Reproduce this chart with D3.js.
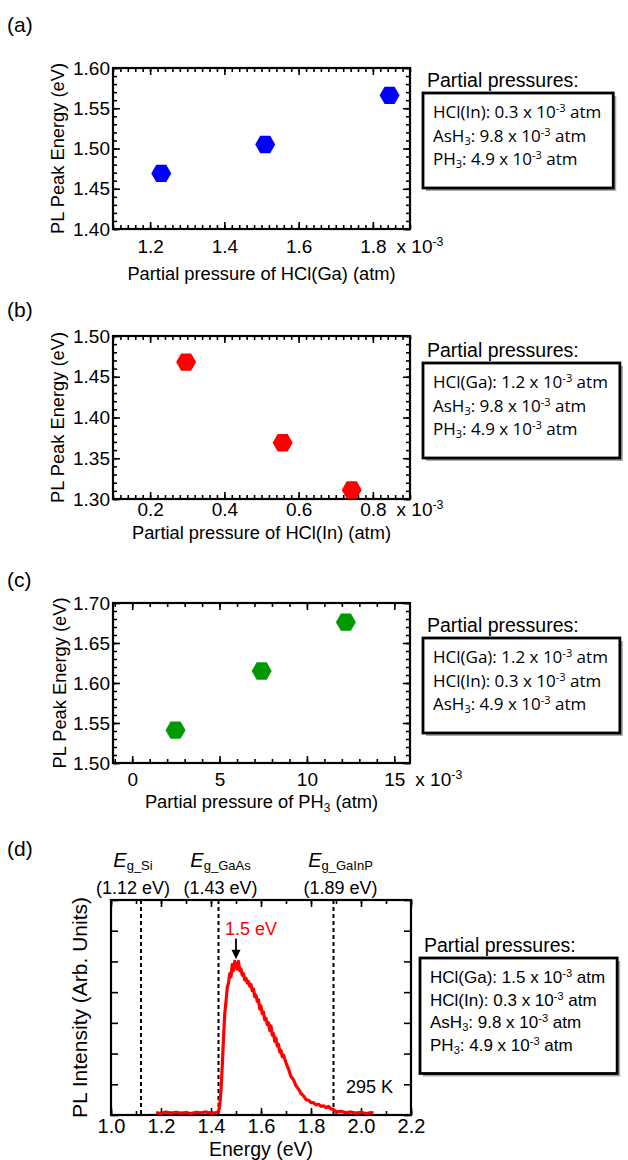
<!DOCTYPE html>
<html>
<head>
<meta charset="utf-8">
<script src="https://cdn.jsdelivr.net/npm/d3@7"></script>
<style>
body { margin: 0; background: #fff; }
svg { display: block; }
text { font-family: "Liberation Sans", Arial, sans-serif; fill: #000; }
.calib { font-family: "Open Sans", sans-serif; }
</style>
</head>
<body>
<script>
// (a) PL peak vs HCl(Ga)
var hclGa = [1.23, 1.51, 1.845];
var peakA = [1.469, 1.505, 1.566];
var xTicksA = [1.2, 1.4, 1.6, 1.8];
var yTicksA = [1.40, 1.45, 1.50, 1.55, 1.60];
var boxA = ["HCl(In): 0.3 x 10^-3 atm", "AsH_3: 9.8 x 10^-3 atm", "PH_3: 4.9 x 10^-3 atm"];

// (b) PL peak vs HCl(In)
var hclIn = [0.297, 0.557, 0.743];
var peakB = [1.468, 1.369, 1.311];
var xTicksB = [0.2, 0.4, 0.6, 0.8];
var yTicksB = [1.30, 1.35, 1.40, 1.45, 1.50];
var boxB = ["HCl(Ga): 1.2 x 10^-3 atm", "AsH_3: 9.8 x 10^-3 atm", "PH_3: 4.9 x 10^-3 atm"];

// (c) PL peak vs PH3
var ph3 = [2.48, 7.41, 12.23];
var peakC = [1.541, 1.615, 1.676];
var xTicksC = [0, 5, 10, 15];
var yTicksC = [1.50, 1.55, 1.60, 1.65, 1.70];
var boxC = ["HCl(Ga): 1.2 x 10^-3 atm", "HCl(In): 0.3 x 10^-3 atm", "AsH_3: 4.9 x 10^-3 atm"];

// (d) PL spectrum
var energy = [1.18, 1.20, 1.22, 1.24, 1.26, 1.28, 1.30, 1.32, 1.34, 1.36, 1.38, 1.40, 1.42, 1.43,
    1.435, 1.44, 1.445, 1.45, 1.455, 1.46, 1.465, 1.47, 1.475, 1.48, 1.485, 1.49, 1.495, 1.50,
    1.505, 1.51, 1.515, 1.52, 1.525, 1.53, 1.535, 1.54, 1.545, 1.55, 1.555, 1.56, 1.565, 1.57,
    1.575, 1.58, 1.585, 1.59, 1.595, 1.60, 1.605, 1.61, 1.615, 1.62, 1.625, 1.63, 1.635, 1.64,
    1.645, 1.65, 1.655, 1.66, 1.665, 1.67, 1.675, 1.68, 1.685, 1.69, 1.70, 1.71, 1.72, 1.73,
    1.74, 1.75, 1.76, 1.77, 1.78, 1.79, 1.80, 1.81, 1.82, 1.83, 1.84, 1.85, 1.86, 1.87, 1.88,
    1.89, 1.90, 1.92, 1.94, 1.96, 1.98, 2.00, 2.02, 2.04, 2.05];
var intensity = [0.08, 0.05, 0.1, 0.06, 0.09, 0.06, 0.08, 0.05, 0.09, 0.07, 0.1, 0.06, 0.08, 0.10,
    0.3, 0.8, 1.6, 2.5, 3.3, 3.7, 4.15, 4.3, 4.6, 4.5, 4.9, 4.7, 5.0,
    4.9, 4.75, 5.0, 4.7, 4.75, 4.55, 4.6, 4.4, 4.45, 4.3, 4.35, 4.2, 4.25, 4.05, 4.1,
    3.85, 3.9, 3.7, 3.75, 3.45, 3.55, 3.3, 3.35, 3.1, 3.15, 2.95, 3.0, 2.75, 2.9,
    2.6, 2.65, 2.4, 2.5, 2.25, 2.3, 2.05, 2.1, 1.9, 1.95, 1.7, 1.5, 1.25, 1.15,
    0.95, 0.85, 0.7, 0.62, 0.5, 0.48, 0.4, 0.4, 0.33, 0.35, 0.28, 0.3, 0.24, 0.28, 0.2,
    0.18, 0.1, 0.12, 0.07, 0.1, 0.06, 0.09, 0.05, 0.08, 0.06];
var gapValues = [1.12, 1.43, 1.89];
var gapNames = ["g_Si", "g_GaAs", "g_GaInP"];
var peakEnergy = 1.5;
var xTicksD = [1.0, 1.2, 1.4, 1.6, 1.8, 2.0, 2.2];
var yTicksD = [0, 1, 2, 3, 4, 5, 6, 7];
var boxD = ["HCl(Ga): 1.5 x 10^-3 atm", "HCl(In): 0.3 x 10^-3 atm", "AsH_3: 9.8 x 10^-3 atm", "PH_3: 4.9 x 10^-3 atm"];

var svg = d3.select("body").append("svg")
    .attr("width", 628)
    .attr("height", 1160);

// text with ^sup and _sub pieces, fs = base font size
function rich(sel, str, fs) {
    str.split(/(\^-?\d+|_\d)/).forEach(function(p) {
        if (!p) return;
        if (p[0] === "^") {
            sel.append("tspan").attr("baseline-shift", fs * 0.38).attr("font-size", fs * 0.65).text(p.slice(1));
        } else if (p[0] === "_") {
            sel.append("tspan").attr("baseline-shift", -fs * 0.2).attr("font-size", fs * 0.65).text(p.slice(1));
        } else {
            sel.append("tspan").text(p);
        }
    });
}

function hexagon(cx, cy, r) {
    var pts = d3.range(6).map(function(i) {
        var a = Math.PI / 3 * i;
        return [cx + r * Math.cos(a), cy + r * Math.sin(a)];
    });
    return "M" + pts.join("L") + "Z";
}

function frameAxes(g, x, y, c) {
    var ax = [
        [d3.axisBottom(x), c.bottom, true],
        [d3.axisTop(x), c.top, false]
    ];
    ax.forEach(function(a) {
        g.append("g").attr("transform", "translate(0," + a[1] + ")")
            .call(a[0].tickValues(c.xMinor).tickSize(-4).tickFormat(""));
        var t = g.append("g").attr("class", a[2] ? "xaxis" : "").attr("transform", "translate(0," + a[1] + ")")
            .call(a[0].tickValues(c.xTicks).tickSize(-7).tickPadding(c.xPad).tickFormat(a[2] ? c.xFmt : ""));
        t.attr("font-size", c.tickFont);
    });
    var ay = [
        [d3.axisLeft(y), c.left, true],
        [d3.axisRight(y), c.right, false]
    ];
    ay.forEach(function(a) {
        if (c.yMinor) {
            g.append("g").attr("transform", "translate(" + a[1] + ",0)")
                .call(a[0].tickValues(c.yMinor).tickSize(-4).tickFormat(""));
        }
        var t = g.append("g").attr("transform", "translate(" + a[1] + ",0)")
            .call(a[0].tickValues(c.yTicks).tickSize(-7).tickPadding(3)
                .tickFormat(a[2] && c.yFmt ? c.yFmt : ""));
        t.attr("font-size", c.tickFont);
    });
    g.selectAll(".domain").remove();
    g.selectAll(".tick line").attr("stroke", "#000").attr("stroke-width", 1.6);
    g.append("rect")
        .attr("x", c.left).attr("y", c.top)
        .attr("width", c.right - c.left).attr("height", c.bottom - c.top)
        .attr("fill", "none").attr("stroke", "#000").attr("stroke-width", 2.2);
}

function legendBox(c) {
    svg.append("text").attr("x", c.lx + 4).attr("y", c.top - 6)
        .attr("font-size", 19.5).text("Partial pressures:");
    var g = svg.append("g");
    var shadow = g.append("rect");
    var box = g.append("rect");
    var lines = c.lines.map(function(s, i) {
        var t = g.append("text").attr("class", c.cls)
            .attr("x", c.lx + 10).attr("y", c.top + 25 + i * c.gap)
            .attr("font-size", c.font);
        rich(t, s, c.font);
        return t;
    });
    var wMax = d3.max(lines, function(t) { return t.node().getComputedTextLength(); });
    var w = wMax + 22, h = 25 + (c.lines.length - 1) * c.gap + 23;
    shadow.attr("x", c.lx + 3).attr("y", c.top + 3).attr("width", w).attr("height", h)
        .attr("fill", "#aaa");
    box.attr("x", c.lx).attr("y", c.top).attr("width", w).attr("height", h)
        .attr("fill", "#fff").attr("stroke", "#000").attr("stroke-width", 2.8);
}

function scatterPanel(c) {
    var g = svg.append("g");
    var x = d3.scaleLinear().domain(c.xDomain).range([c.left, c.right]);
    var y = d3.scaleLinear().domain(c.yDomain).range([c.bottom, c.top]);
    frameAxes(g, x, y, c);

    g.selectAll("path.pt")
        .data(c.xs)
        .enter().append("path")
        .attr("class", "pt")
        .attr("d", function(d, i) { return hexagon(x(d), y(c.ys[i]), 10); })
        .attr("fill", c.color);

    // x 10^-3 right after the last tick label
    var last = g.selectAll(".xaxis .tick text").nodes().pop();
    var right = last.getBoundingClientRect().right - svg.node().getBoundingClientRect().left;
    var ex = g.append("text")
        .attr("x", right + 10)
        .attr("y", c.bottom + c.xPad)
        .attr("dy", "0.71em")
        .attr("font-size", c.tickFont);
    rich(ex, "x 10^-3", c.tickFont);

    var xl = g.append("text")
        .attr("x", (c.left + c.right) / 2)
        .attr("y", c.xLabelY)
        .attr("text-anchor", "middle")
        .attr("font-size", 18.3);
    rich(xl, c.xLabel, 18.3);

    g.append("text")
        .attr("transform", "translate(" + c.yLabelX + "," + (c.top + c.bottom) / 2 + ") rotate(-90)")
        .attr("text-anchor", "middle")
        .attr("dy", "0.35em")
        .attr("font-size", 18.3)
        .text("PL Peak Energy (eV)");

    svg.append("text").attr("x", 7).attr("y", c.tagY).attr("font-size", 21).text(c.tag);

    legendBox({ lx: 423, top: c.boxTop, lines: c.box, gap: 23.5, font: 17, cls: "calib" });
}

scatterPanel({
    tag: "(a)", tagY: 32,
    left: 113, right: 410, top: 68, bottom: 229,
    xDomain: [1.1, 1.9], yDomain: [1.40, 1.60],
    xTicks: xTicksA, yTicks: yTicksA,
    xMinor: d3.range(1.1, 1.9001, 0.02), yMinor: d3.range(1.40, 1.6001, 0.01),
    xFmt: d3.format(".1f"), yFmt: d3.format(".2f"),
    xPad: 11, tickFont: 19,
    xs: hclGa, ys: peakA, color: "#0000ff",
    xLabel: "Partial pressure of HCl(Ga) (atm)", xLabelY: 280, yLabelX: 58,
    box: boxA, boxTop: 93
});

scatterPanel({
    tag: "(b)", tagY: 317,
    left: 113, right: 410, top: 336, bottom: 499,
    xDomain: [0.1, 0.9], yDomain: [1.30, 1.50],
    xTicks: xTicksB, yTicks: yTicksB,
    xMinor: d3.range(0.1, 0.9001, 0.02), yMinor: d3.range(1.30, 1.5001, 0.01),
    xFmt: d3.format(".1f"), yFmt: d3.format(".2f"),
    xPad: 4, tickFont: 19,
    xs: hclIn, ys: peakB, color: "#ff0000",
    xLabel: "Partial pressure of HCl(In) (atm)", xLabelY: 539, yLabelX: 58,
    box: boxB, boxTop: 363
});

scatterPanel({
    tag: "(c)", tagY: 587,
    left: 113, right: 410, top: 603, bottom: 763,
    xDomain: [-1.1, 15.9], yDomain: [1.50, 1.70],
    xTicks: xTicksC, yTicks: yTicksC,
    xMinor: d3.range(-1, 15.9, 1), yMinor: d3.range(1.50, 1.7001, 0.01),
    xFmt: d3.format("d"), yFmt: d3.format(".2f"),
    xPad: 10, tickFont: 19,
    xs: ph3, ys: peakC, color: "#009a00",
    xLabel: "Partial pressure of PH_3 (atm)", xLabelY: 808, yLabelX: 60,
    box: boxC, boxTop: 638
});

// (d) spectrum
var cd = {
    left: 111, right: 411, top: 900, bottom: 1115,
    xTicks: xTicksD, yTicks: yTicksD,
    xMinor: d3.range(1.0, 2.2001, 0.1), yMinor: null,
    xFmt: d3.format(".1f"), yFmt: null,
    xPad: 4, tickFont: 20
};
var gd = svg.append("g");
var xd = d3.scaleLinear().domain([1.0, 2.2]).range([cd.left, cd.right]);
var yd = d3.scaleLinear().domain([0, 7]).range([cd.bottom, cd.top]);
frameAxes(gd, xd, yd, cd);

gd.selectAll("line.gap")
    .data(gapValues)
    .enter().append("line")
    .attr("class", "gap")
    .attr("x1", function(d) { return xd(d); })
    .attr("x2", function(d) { return xd(d); })
    .attr("y1", cd.top)
    .attr("y2", cd.bottom)
    .attr("stroke", "#000")
    .attr("stroke-width", 2)
    .attr("stroke-dasharray", "4,3");

var spectrum = energy.map(function(e, i) { return [e, intensity[i]]; });
gd.append("path")
    .datum(spectrum)
    .attr("d", d3.line()
        .x(function(d) { return xd(d[0]); })
        .y(function(d) { return yd(d[1]); }))
    .attr("fill", "none")
    .attr("stroke", "#ff0000")
    .attr("stroke-width", 3.2)
    .attr("stroke-linejoin", "round");

// gap labels above the frame
var gapShift = [-8, 2, 7];
gapValues.forEach(function(v, i) {
    var t = gd.append("text")
        .attr("x", xd(v) + gapShift[i])
        .attr("y", 867)
        .attr("text-anchor", "middle")
        .attr("font-size", 20);
    t.append("tspan").attr("font-style", "italic").text("E");
    t.append("tspan").attr("baseline-shift", -3).attr("font-size", 13).text(gapNames[i]);
    gd.append("text")
        .attr("x", xd(v) + gapShift[i])
        .attr("y", 894)
        .attr("text-anchor", "middle")
        .attr("font-size", 18)
        .text("(" + d3.format(".2f")(v) + " eV)");
});

// peak arrow
var px = xd(peakEnergy);
gd.append("line")
    .attr("x1", px).attr("x2", px)
    .attr("y1", yd(5.75)).attr("y2", yd(5.35))
    .attr("stroke", "#000").attr("stroke-width", 1.8);
gd.append("path")
    .attr("d", "M" + (px - 4.5) + "," + yd(5.38) + "L" + (px + 4.5) + "," + yd(5.38) + "L" + px + "," + yd(5.07) + "Z")
    .attr("fill", "#000");
gd.append("text")
    .attr("x", px + 15)
    .attr("y", yd(5.85))
    .attr("text-anchor", "middle")
    .attr("font-size", 18)
    .style("fill", "#ff0000")
    .text(peakEnergy + " eV");

gd.append("text")
    .attr("x", cd.right - 18)
    .attr("y", yd(0.72))
    .attr("text-anchor", "end")
    .attr("font-size", 18)
    .text("295 K");

gd.append("text")
    .attr("x", (cd.left + cd.right) / 2)
    .attr("y", 1156)
    .attr("text-anchor", "middle")
    .attr("font-size", 19.5)
    .text("Energy (eV)");

gd.append("text")
    .attr("transform", "translate(80," + (cd.top + cd.bottom) / 2 + ") rotate(-90)")
    .attr("text-anchor", "middle")
    .attr("dy", "0.35em")
    .attr("font-size", 21)
    .text("PL Intensity (Arb. Units)");

svg.append("text").attr("x", 7).attr("y", 856).attr("font-size", 21).text("(d)");

legendBox({ lx: 420, top: 958, lines: boxD, gap: 22.5, font: 17, cls: "" });
</script>
</body>
</html>
